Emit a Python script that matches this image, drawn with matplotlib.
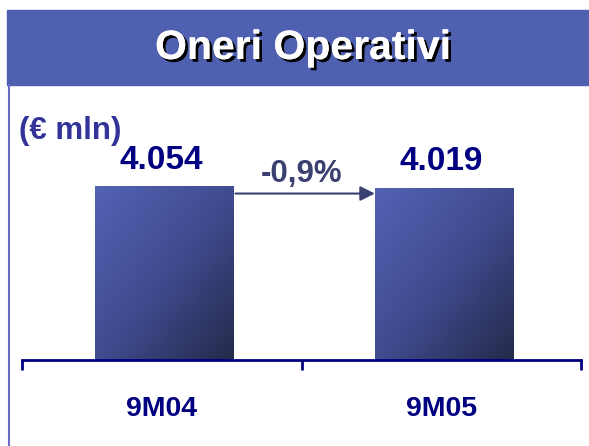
import numpy as np
import matplotlib.pyplot as plt
import matplotlib.patheffects as pe
from matplotlib.colors import LinearSegmentedColormap
from matplotlib.lines import Line2D
from matplotlib.patches import Rectangle

categories = ['9M04', '9M05']
values = [4054, 4019]
value_labels = ['4.054', '4.019']
change_label = '-0,9%'
unit_label = '(€ mln)'
title = 'Oneri Operativi'

plt.rcParams['font.family'] = ['Liberation Sans', 'DejaVu Sans']
plt.rcParams['font.weight'] = 'bold'

W, H = 589, 446
fig = plt.figure(figsize=(W / 100, H / 100), dpi=100)

# title banner
fig.patches.append(Rectangle((7 / W, 1 - 85 / H), 1 - 7 / W, 75 / H,
                             transform=fig.transFigure, color='#5060b0', zorder=0))
fig.text(303 / W, 1 - 48 / H, title, color='white', fontsize=29.5, fontweight='bold',
         ha='center', va='center',
         path_effects=[pe.withSimplePatchShadow(offset=(2, -2), shadow_rgbFace='black', alpha=1.0),
                       pe.Normal()])
# left border line
fig.lines.append(Line2D([9 / W, 9 / W], [0, 1 - 85 / H], transform=fig.transFigure,
                        color='#6a6ac8', lw=1.5))

fig.text(19 / W, 1 - 131 / H, unit_label, color='#333399', fontsize=22.5, fontweight='bold',
         ha='left', va='center')

ax = fig.add_axes([22 / W, 86 / H, 559 / W, 214.6 / H])
x = np.arange(len(categories))
bars = ax.bar(x + 0.01, values, width=0.495, color='none', zorder=2)

cmap = LinearSegmentedColormap.from_list('g', ['#5363b4', '#404c90', '#252a4b'])
uu, vv = np.meshgrid(np.linspace(0, 1, 100), np.linspace(0, 1, 100))
grad = (uu + vv) / 2
for b in bars:
    im = ax.imshow(grad, extent=[b.get_x(), b.get_x() + b.get_width(), 0, b.get_height()],
                   origin='upper', aspect='auto', cmap=cmap, zorder=2)
    im.set_clip_path(b)

for xi, v, lab in zip(x, values, value_labels):
    ax.annotate(lab, (xi, v), xytext=(0, 18.5), textcoords='offset points', ha='center',
                va='center', fontsize=24, fontweight='bold', color='#000080')

# change arrow
b0, b1 = bars[0], bars[1]
arrow_y = min(values) * 0.965
ax.annotate('', xy=(b1.get_x(), arrow_y), xytext=(b0.get_x() + b0.get_width() + 0.006, arrow_y),
            arrowprops=dict(arrowstyle='-|>', mutation_scale=22, lw=1.5, color='#3a4070',
                            shrinkA=0, shrinkB=0))
ax.annotate(change_label, ((x[0] + x[1]) / 2, arrow_y), xytext=(0, 14), textcoords='offset points',
            ha='center', va='center', fontsize=22.5, fontweight='bold', color='#3a4070')

ax.set_xlim(-0.5, 1.5)
ax.set_ylim(0, 5000)
for s in ['top', 'right', 'left']:
    ax.spines[s].set_visible(False)
ax.spines['bottom'].set_color('#000080')
ax.spines['bottom'].set_linewidth(2)
ax.set_yticks([])
ax.set_xticks(x)
ax.set_xticklabels(categories, fontsize=20.5, fontweight='bold', color='#000080')
ax.tick_params(axis='x', which='major', length=0, pad=26)
ax.set_xticks([-0.5, 0.5, 1.5], minor=True)
ax.tick_params(axis='x', which='minor', direction='out', length=7, width=2, color='#000080')
ax.patch.set_alpha(0)

fig.savefig('out.png', dpi=100)
